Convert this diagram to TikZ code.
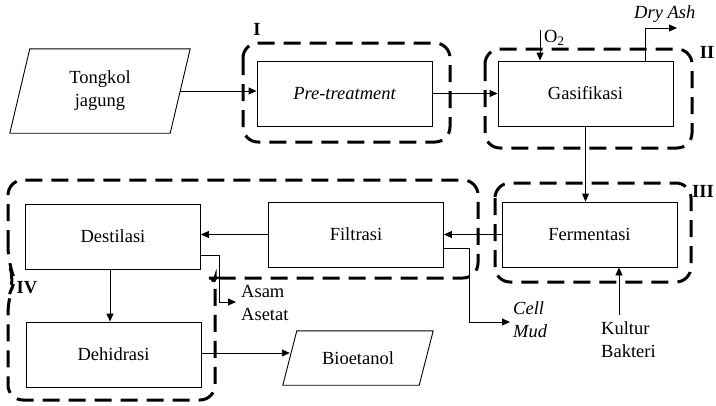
\documentclass[tikz,border=0pt]{standalone}
\usepackage{fontspec}
\setmainfont{Liberation Serif}
\newfontfamily\tnr{Liberation Serif}
\usetikzlibrary{arrows.meta}
\begin{document}
\begin{tikzpicture}[x=1pt,y=-1pt,
  font=\tnr\fontsize{18.5}{23}\selectfont,
  proc/.style={draw, line width=0.9pt, minimum width=175pt, minimum height=65pt, inner sep=0pt},
  io/.style={inner sep=0pt},
  arr/.style={line width=0.9pt, -{Triangle[length=8pt,width=7pt]}},
  conn/.style={line width=0.9pt},
  dashbox/.style={line width=3pt, dash pattern=on 17pt off 9pt, rounded corners=15pt},
  grp/.style={font=\tnr\fontsize{18.5}{23}\selectfont\bfseries, inner sep=0pt},
  itl/.style={font=\tnr\fontsize{18.5}{23}\selectfont\itshape},
  lbl/.style={align=left, anchor=west, inner sep=0pt}]
\useasboundingbox (0,0) rectangle (716,405);

% group frames
\draw[dashbox] (243,43) rectangle (450,142);
\draw[dashbox] (485,49) rectangle (692,148);
\draw[dashbox] (495,183) rectangle (691,282);
\draw[dashbox] (8,262) -- (8,180) -- (478,180) -- (478,278) -- (200,278)
  .. controls (209,278) and (215,284) .. (215,293) -- (215,400) -- (8,400) -- (8,298) -- (15,280) -- cycle;

\node[grp] (gI) at (257,29) {I};
\node[grp] (gII) at (707,52) {II};
\node[grp] (gIII) at (703,191) {III};
\node[grp] (gIV) at (27,288) {IV};

% input / output shapes
\node[io, minimum width=160pt, minimum height=84pt, align=center] (tong) at (100,91) {Tongkol\\jagung};
\draw[line width=0.9pt] ([xshift=10pt]tong.north west) -- ([xshift=10pt]tong.north east)
  -- ([xshift=-10pt]tong.south east) -- ([xshift=-10pt]tong.south west) -- cycle;

\node[io, minimum width=136pt, minimum height=54pt] (bio) at (358,358) {Bioetanol};
\draw[line width=0.9pt] ([xshift=7pt]bio.north west) -- ([xshift=7pt]bio.north east)
  -- ([xshift=-7pt]bio.south east) -- ([xshift=-7pt]bio.south west) -- cycle;

% process boxes
\node[proc, itl] (pre) at (344.5,93.5) {Pre-treatment};
\node[proc] (gas) at (585.5,93.5) {Gasifikasi};
\node[proc] (ferm) at (589.5,234.5) {Fermentasi};
\node[proc] (filt) at (356,234.5) {Filtrasi};
\node[proc] (dest) at (113,236.5) {Destilasi};
\node[proc] (dehi) at (113.5,354.5) {Dehidrasi};

% main flow
\draw[arr] (tong.east) -- (tong.east -| pre.west);
\draw[arr] (pre.east) -- (gas.west);
\draw[arr] (gas.south) -- (gas.south |- ferm.north);
\draw[arr] (ferm.west) -- (filt.east);
\draw[arr] (filt.west) -- (filt.west -| dest.east);
\draw[arr] ([xshift=-3pt]dest.south) -- ([xshift=-3pt]dest.south |- dehi.north);
\draw[arr] (dehi.east |- 0,353) -- (bio.west |- 0,353);

% O2
\coordinate (o2) at (540,30);
\draw[arr] (o2) -- (o2 |- gas.north);
\node[lbl] (o2t) at (544,38) {O\textsubscript{2}};

% Dry Ash
\coordinate (da1) at (645,28);
\coordinate (da2) at (677,28);
\draw[arr] (da1 |- gas.north) -- (da1) -- (da2);
\node[lbl, itl] (dat) at (634,14) {Dry Ash};

% Cell Mud
\coordinate (cm1) at (469,248);
\coordinate (cm2) at (469,322);
\coordinate (cm3) at (510,322);
\draw[conn] (filt.east |- cm1) -- (cm1) -- (cm2);
\draw[arr] (cm2) -- (cm3);
\node[lbl, itl] (cmt) at (513,320) {Cell\\Mud};

% Asam Asetat
\coordinate (aa1) at (219,255);
\coordinate (aa2) at (219,302);
\coordinate (aa3) at (236,302);
\draw[conn] (dest.east |- aa1) -- (aa1) -- (aa2);
\draw[arr] (aa2) -- (aa3);
\node[lbl] (aat) at (241,303) {Asam\\Asetat};

% Kultur Bakteri
\node[lbl] (kb) at (601,340) {Kultur\\Bakteri};
\coordinate (kb1) at (619,315);
\draw[arr] (kb1) -- (kb1 |- ferm.south);
\end{tikzpicture}
\end{document}
